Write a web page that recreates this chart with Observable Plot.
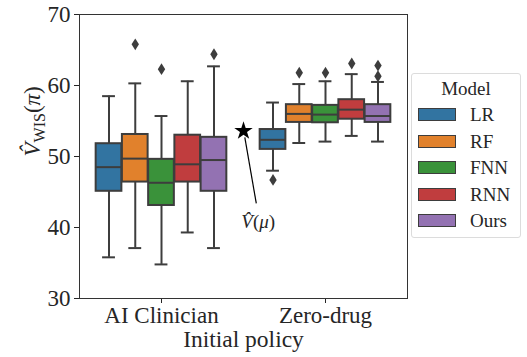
<!DOCTYPE html>
<html><head><meta charset="utf-8">
<script src="https://cdn.jsdelivr.net/npm/d3@7"></script>
<script src="https://cdn.jsdelivr.net/npm/@observablehq/plot@0.6"></script>
<style>
body{margin:0;background:#fff;}
#wrap{position:relative;width:527px;height:357px;font-family:"Liberation Serif",serif;color:#262626}
#wrap svg text{font-family:"Liberation Serif",serif}
.legend{position:absolute;left:411px;top:73px;width:110px;height:165px;border:1px solid #dcdcdc;border-radius:3px;box-sizing:border-box;font-size:19px;background:#fff}
.legend .title{position:absolute;top:4px;width:100%;text-align:center}
.legend .item{position:absolute;left:6px;height:20px;line-height:20px}
.legend .sw{position:absolute;left:0;top:3px;width:38px;height:13px;border:1px solid #3d3d3d;box-sizing:border-box}
.legend .lb{position:absolute;left:52px;top:0;white-space:nowrap}
</style></head><body><div id="wrap"></div>
<script>
const groups = ["AI Clinician", "Zero-drug"];
const models = ["LR", "RF", "FNN", "RNN", "Ours"];
const colors = ["#3274a1", "#e1812c", "#3a923a", "#c03d3e", "#9372b2"];
const yTicks = [30, 40, 50, 60, 70];
// AI Clinician: whisker low, Q1, median, Q3, whisker high, outliers
const aiLow = [35.8, 37.1, 34.8, 39.3, 37.1];
const aiQ1 = [45.1, 46.4, 43.1, 46.4, 45.1];
const aiMed = [48.5, 49.7, 46.3, 48.9, 49.5];
const aiQ3 = [51.8, 53.1, 49.6, 53.0, 52.7];
const aiHigh = [58.5, 60.3, 55.7, 60.6, 62.7];
const aiOut = [[], [65.8], [62.3], [], [64.4]];
// Zero-drug
const zdLow = [48.0, 51.9, 52.1, 52.9, 52.1];
const zdQ1 = [51.0, 54.8, 54.75, 55.25, 54.8];
const zdMed = [52.35, 56.0, 55.9, 56.6, 55.7];
const zdQ3 = [53.8, 57.3, 57.2, 58.0, 57.3];
const zdHigh = [57.6, 60.2, 60.6, 61.6, 60.5];
const zdOut = [[46.7], [61.8], [61.8], [63.1], [62.8, 61.3]];
// behaviour policy estimate V̂(μ)
const behaviorValue = 53.6;
const annotationY = 40.8;

const stats = [
  [aiLow, aiQ1, aiMed, aiQ3, aiHigh, aiOut],
  [zdLow, zdQ1, zdMed, zdQ3, zdHigh, zdOut]
];
const step = 0.8 / models.length;
const half = step * 0.98 / 2;
const rows = [], outliers = [];
groups.forEach((g, gi) => models.forEach((m, mi) => {
  const [lo, q1, md, q3, hi, out] = stats[gi];
  const xc = gi + (mi - (models.length - 1) / 2) * step;
  rows.push({group: g, model: m, xc, low: lo[mi], q1: q1[mi], med: md[mi], q3: q3[mi], high: hi[mi]});
  out[mi].forEach(v => outliers.push({model: m, xc, v}));
}));

const line = "#3d3d3d";
const thinDiamond = {draw(ctx, size) {
  const r = Math.sqrt(size / Math.PI);
  const w = r, h = r * 1.6;
  ctx.moveTo(0, -h); ctx.lineTo(w, 0); ctx.lineTo(0, h); ctx.lineTo(-w, 0); ctx.closePath();
}};

const mid = (groups.length - 1) / 2;
const plot = Plot.plot({
  width: 527, height: 357,
  marginLeft: 79, marginRight: 120, marginTop: 14, marginBottom: 59,
  style: {fontFamily: "\"Liberation Serif\", serif", fontSize: "23px", color: "#262626", background: "#fff"},
  x: {type: "linear", domain: [-0.5, groups.length - 0.5], ticks: groups.map((g, i) => i), tickFormat: i => groups[i], tickSize: 5, tickPadding: 3, label: null},
  y: {domain: [30, 70], ticks: yTicks, tickSize: 5, tickPadding: 4, label: null},
  color: {domain: models, range: colors},
  marks: [
    Plot.ruleX(rows, {x: "xc", y1: "low", y2: "q1", stroke: line, strokeWidth: 2}),
    Plot.ruleX(rows, {x: "xc", y1: "q3", y2: "high", stroke: line, strokeWidth: 2}),
    Plot.ruleY(rows, {y: "low", x1: d => d.xc - half / 2, x2: d => d.xc + half / 2, stroke: line, strokeWidth: 2}),
    Plot.ruleY(rows, {y: "high", x1: d => d.xc - half / 2, x2: d => d.xc + half / 2, stroke: line, strokeWidth: 2}),
    Plot.rect(rows, {x1: d => d.xc - half, x2: d => d.xc + half, y1: "q1", y2: "q3", fill: "model", stroke: line, strokeWidth: 2}),
    Plot.ruleY(rows, {y: "med", x1: d => d.xc - half, x2: d => d.xc + half, stroke: line, strokeWidth: 2}),
    Plot.dot(outliers, {x: "xc", y: "v", symbol: thinDiamond, r: 3.7, fill: line, stroke: null}),
    Plot.frame({stroke: "#333", strokeWidth: 1}),
    Plot.link([behaviorValue], {x1: mid + 0.078, y1: annotationY + 2.6, x2: mid + 0.008, y2: d => d - 0.9, stroke: "#000", strokeWidth: 1.2}),
    Plot.dot([behaviorValue], {x: mid, y: d => d, symbol: "star", r: 5.8, fill: "#000", stroke: null}),
    Plot.text(["V\u0302(\u03bc)"], {x: mid + 0.09, y: annotationY, fontSize: 19, fill: "#262626", ariaDescription: "vmu"}),
    Plot.text(["Initial policy"], {frameAnchor: "bottom", dy: 48, fontSize: 23.5, fill: "#262626"}),
    Plot.text(["V\u0302WIS(\u03c0)"], {frameAnchor: "left", dx: -47, rotate: -90, fontSize: 23, fill: "#262626", ariaDescription: "ylab"})
  ]
});

const wrap = document.getElementById("wrap");
wrap.appendChild(plot);

// rich text for the y label and annotation
const svg = d3.select(plot);
const yl = svg.select('g[aria-description="ylab"] text');
yl.text(null);
yl.append("tspan").attr("font-style", "italic").text("V\u0302");
yl.append("tspan").attr("font-size", 16).attr("dy", 5).text("WIS");
yl.append("tspan").attr("dy", -5).text("(");
yl.append("tspan").attr("font-style", "italic").text("\u03c0");
yl.append("tspan").text(")");
const vm = svg.select('g[aria-description="vmu"] text');
vm.text(null);
vm.append("tspan").attr("font-style", "italic").text("V\u0302");
vm.append("tspan").text("(");
vm.append("tspan").attr("font-style", "italic").text("\u03bc");
vm.append("tspan").text(")");

// legend
const lg = document.createElement("div");
lg.className = "legend";
lg.innerHTML = `<div class="title">Model</div>` + models.map((m, i) =>
  `<div class="item" style="top:${31 + i * 26.5}px"><div class="sw" style="background:${colors[i]}"></div><div class="lb">${m}</div></div>`).join("");
wrap.appendChild(lg);
</script></body></html>
